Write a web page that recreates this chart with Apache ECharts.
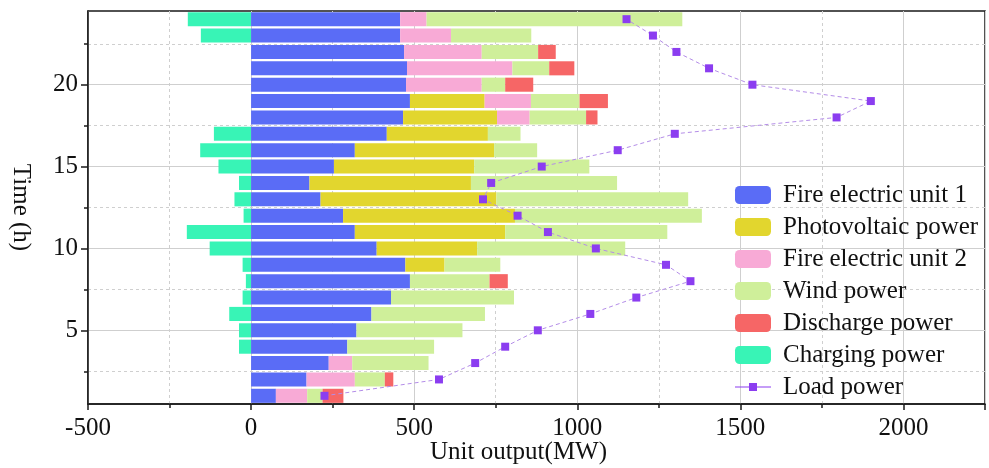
<!DOCTYPE html>
<html>
<head>
<meta charset="utf-8">
<script src="https://cdn.jsdelivr.net/npm/echarts@6/dist/echarts.min.js"></script>
<style>
html,body{margin:0;padding:0;background:#fff;}
#chart{width:989px;height:468px;}
</style>
</head>
<body>
<div id="chart"></div>
<script>
const hours = ['1','2','3','4','5','6','7','8','9','10','11','12','13','14','15','16','17','18','19','20','21','22','23','24'];
const chargingPower = [0,0,0,-37,-37,-67,-26,-16,-26,-127,-197,-23,-51,-37,-100,-156,-114,0,0,0,0,0,-154,-194];
const fireUnit1 = [76,170,238,295,323,369,429,487,473,385,318,282,213,179,254,318,416,466,487,475,478,469,457,457];
const photovoltaic = [0,0,0,0,0,0,0,0,120,308,461,527,539,495,430,427,310,288,229,0,0,0,0,0];
const fireUnit2 = [96,148,72,0,0,0,0,0,0,0,0,0,0,0,0,0,0,100,142,232,323,238,156,81];
const windPower = [47,92,234,266,325,348,377,244,171,454,497,573,588,448,353,132,100,173,149,72,113,173,246,784];
const dischargePower = [64,26,0,0,0,0,0,56,0,0,0,0,0,0,0,0,0,35,87,86,77,54,0,0];
const loadPower = [225,576,687,779,879,1040,1181,1347,1272,1057,910,817,711,736,891,1124,1299,1795,1900,1537,1404,1304,1232,1151];
const yMajorTicks = [5,10,15,20];
const yMinorTicks = [2.5,7.5,12.5,17.5,22.5];

const FONT = 'Liberation Serif';
const axisColor = '#1a1a1a';
const gridColor = '#cfcfcf';

const chart = echarts.init(document.getElementById('chart'), null, {renderer:'canvas'});

function barSeries(name, data, color) {
  return {
    name: name, type: 'bar', stack: 'total', data: data,
    yAxisIndex: 0, barCategoryGap: '14%',
    itemStyle: {color: color},
    emphasis: {disabled: true}
  };
}

chart.setOption({
  animation: false,
  backgroundColor: '#fff',
  grid: {left: 88, right: 4, top: 11, bottom: 64, show: true, borderColor: axisColor, borderWidth: 1.5,
    backgroundColor: 'transparent', containLabel: false, outerBoundsMode: 'none'},
  legend: {
    orient: 'vertical', left: 730, top: 177, align: 'left',
    itemWidth: 36, itemHeight: 18, itemGap: 6, symbolKeepAspect: true,
    data: ['Fire electric unit 1','Photovoltaic power','Fire electric unit 2','Wind power','Discharge power','Charging power',
      {name: 'Load power', icon: 'path://M0,3.5h36v1h-36z M14,0h8v8h-8z'}],
    textStyle: {fontFamily: FONT, fontSize: 25, color: '#111', lineHeight: 26, padding: [0,0,0,7]}
  },
  xAxis: {
    type: 'value', min: -500, max: 2250, interval: 500,
    axisLine: {show: true, onZero: false, lineStyle: {color: axisColor, width: 1.5}},
    axisTick: {show: true, length: 6, lineStyle: {color: axisColor, width: 1.5}},
    minorTick: {show: true, splitNumber: 2, length: 4, lineStyle: {color: axisColor, width: 1.5}},
    axisLabel: {fontFamily: FONT, fontSize: 25, color: '#111', margin: 12, showMaxLabel: false,
      formatter: function (v) { return String(v); }},
    splitLine: {show: true, lineStyle: {color: gridColor, width: 1}},
    minorSplitLine: {show: true, lineStyle: {color: gridColor, width: 1, type: [3,3]}},
    name: 'Unit output(MW)', nameLocation: 'middle', nameGap: 36, nameMoveOverlap: false,
    nameTextStyle: {fontFamily: FONT, fontSize: 25, color: '#111', padding: [0,36,0,0]}
  },
  yAxis: [
    {type: 'category', data: hours, show: false, position: 'left'},
    {
      type: 'value', min: 0.5, max: 24.5, position: 'left',
      axisLine: {show: true, onZero: false, lineStyle: {color: axisColor, width: 1.5}},
      axisTick: {show: true, length: 7, customValues: yMajorTicks, lineStyle: {color: axisColor, width: 1.5}},
      axisLabel: {fontFamily: FONT, fontSize: 25, color: '#111', margin: 10, customValues: yMajorTicks},
      splitLine: {show: true, lineStyle: {color: gridColor, width: 1}},
      name: 'Time (h)', nameLocation: 'middle', nameRotate: -90, nameGap: 55, nameMoveOverlap: false,
      nameTextStyle: {fontFamily: FONT, fontSize: 25, color: '#111'}
    },
    {
      type: 'value', min: 0.5, max: 24.5, position: 'left',
      axisLine: {show: false, onZero: false},
      axisTick: {show: true, length: 4, customValues: yMinorTicks, lineStyle: {color: axisColor, width: 1.5}},
      axisLabel: {show: false},
      splitLine: {show: true, lineStyle: {color: gridColor, width: 1, type: [3,3]}}
    }
  ],
  series: [
    barSeries('Charging power', chargingPower, '#38F4B6'),
    barSeries('Fire electric unit 1', fireUnit1, '#5A6CF6'),
    barSeries('Photovoltaic power', photovoltaic, '#E2D62E'),
    barSeries('Fire electric unit 2', fireUnit2, '#F8AAD6'),
    barSeries('Wind power', windPower, '#CFEF9A'),
    barSeries('Discharge power', dischargePower, '#F66666'),
    {
      name: 'Load power', type: 'line', yAxisIndex: 0, data: loadPower,
      symbol: 'rect', symbolSize: 8, z: 5,
      itemStyle: {color: '#8B3DF0'},
      lineStyle: {color: '#B48DE8', width: 1, type: [4,3]},
      emphasis: {disabled: true}
    }
  ]
});
</script>
</body>
</html>
